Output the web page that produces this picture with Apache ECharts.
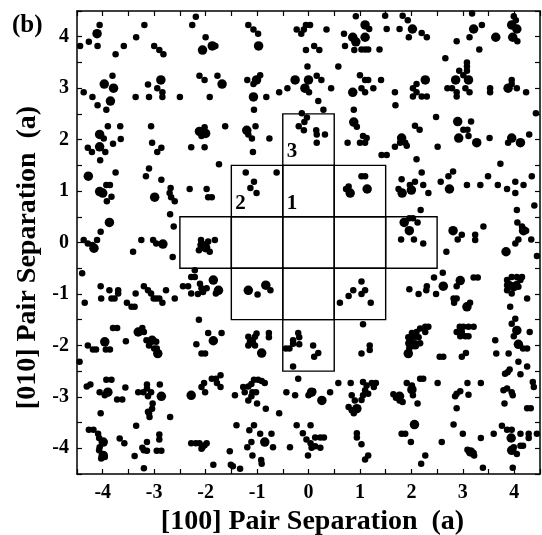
<!DOCTYPE html>
<html>
<head>
<meta charset="utf-8">
<script src="https://cdn.jsdelivr.net/npm/echarts@6/dist/echarts.min.js"></script>
<style>
  html, body { margin: 0; padding: 0; background: #fff; }
  #chart { width: 542px; height: 535px; }
</style>
</head>
<body>
<div id="chart"></div>
<script>
// axis range / ticks (lattice units a)
const axisMin = -4.5
const axisMax = 4.5
const tickStep = 0.5

// shell cells outlined around the origin, with the shell number written in some
const boxCells = [
  [0, 2], [-1, 1], [0, 1], [1, 1],
  [-2, 0], [-1, 0], [0, 0], [1, 0], [2, 0],
  [-1, -1], [0, -1], [1, -1], [0, -2]
]
const boxLabels = ['3', '2', '1', '', '', '', '', '', '', '', '', '', '']

// pair separations, large markers
const largeDots = [
  [-4.11, 4.06], [-3.97, 3.08], [-3.79, 3.0], [-3.85, 2.75], [-2.87, 3.16], [-4.06, 2.10], [-4.06, 1.86], [-4.28, 1.29],
  [-2.06, 3.74], [-1.87, 3.82], [-0.97, 3.82], [0.86, 3.99], [0.92, 3.90], [-1.68, 3.08], [-1.01, 3.16], [-1.07, 2.83],
  [-0.26, 3.16], [-0.07, 3.0], [0.0, 3.16], [0.86, 2.92], [-2.12, 2.16], [-2.0, 2.12], [-1.20, 2.18], [0.88, 2.34],
  [1.10, 4.23], [1.10, 3.99], [2.02, 4.15], [3.21, 4.15], [3.64, 3.99], [3.95, 4.23], [4.05, 4.15], [3.97, 3.99],
  [2.86, 3.16], [3.11, 3.16], [2.27, 3.16], [3.88, 3.0], [2.90, 2.35], [2.92, 2.03], [3.27, 1.94], [1.81, 2.03],
  [3.95, 2.03], [4.12, 1.94],
  [-4.06, 0.99], [-4.0, 0.96], [-3.87, 0.39], [-4.17, -0.11], [-2.99, 0.88], [-2.83, -0.03], [-3.31, -1.74],
  [-3.04, -1.90], [-2.93, -2.16], [-3.96, -1.93],
  [0.81, 0.96], [-2.07, -0.05], [-2.0, -0.10], [-1.85, -0.73], [-1.75, -0.93], [-1.17, -0.93], [-0.83, -0.83],
  [-1.85, -1.91], [-0.91, -2.15], [-1.11, -1.93],
  [1.14, 1.04], [1.82, 0.96], [2.0, 1.02], [2.74, 1.04], [1.86, 0.39], [1.96, 0.23], [2.81, 0.23], [4.18, 0.23],
  [3.84, -0.18], [2.62, -0.85], [2.95, -0.74], [3.08, -1.25], [3.89, -0.83], [3.99, -0.86], [1.97, -1.96],
  [2.07, -1.99], [1.94, -2.16], [4.05, -1.71], [4.08, -1.98],
  [-3.90, -2.91], [-2.86, -2.99], [-3.99, -3.88], [-3.99, -4.14],
  [-2.28, -2.97], [0.06, -2.91], [0.26, -3.07], [0.94, -3.23], [-0.85, -3.88],
  [1.77, -2.99], [2.01, -2.86], [2.06, -3.54], [3.94, -3.80], [3.95, -4.04], [3.15, -4.07]
]

// pair separations, small markers
const smallDots = [
  [-4.06, 4.23], [-4.27, 3.90], [-4.44, 3.82], [-4.10, 3.82], [-3.75, 3.66], [-3.59, 3.82], [-3.35, 3.99], [-3.19, 4.23],
  [-3.0, 3.82], [-2.90, 3.74], [-2.82, 3.66], [-3.81, 3.24], [-3.93, 2.58], [-4.10, 2.67], [-4.20, 2.83], [-4.37, 2.92],
  [-3.36, 2.83], [-3.10, 2.83], [-3.12, 3.07], [-2.94, 3.0], [-2.84, 2.92], [-2.84, 2.83], [-2.50, 2.83],
  [-3.90, 2.26], [-3.66, 2.26], [-3.98, 2.02], [-3.95, 1.76], [-4.05, 1.60], [-4.29, 1.84], [-4.21, 1.76], [-3.80, 1.92],
  [-3.65, 2.01], [-3.06, 2.26], [-3.04, 1.94], [-2.86, 1.84], [-2.94, 1.76], [-3.75, 1.36], [-3.10, 1.44], [-3.16, 1.29],
  [-2.86, 1.22],
  [-2.19, 4.39], [-2.26, 4.23], [-2.0, 3.99], [-1.81, 3.82], [-1.17, 4.23], [-1.07, 4.14], [-0.98, 4.06], [-0.23, 4.14],
  [-0.14, 4.06], [-0.09, 4.14], [-0.05, 4.23], [0.03, 4.23], [0.35, 4.14], [-0.05, 3.74], [0.11, 3.82], [0.21, 3.74],
  [0.69, 4.06], [0.71, 3.82], [0.89, 3.74], [0.92, 4.40],
  [-2.12, 3.24], [-2.02, 3.16], [-1.77, 3.24], [-1.19, 3.16], [-0.94, 3.25], [-1.07, 3.08], [-1.92, 2.83], [-0.82, 2.83],
  [-0.57, 2.92], [-0.41, 3.0], [-0.02, 3.42], [0.16, 3.24], [0.25, 3.16], [0.01, 2.92], [0.44, 3.0], [0.58, 3.42],
  [1.0, 3.25], [-1.06, 2.58], [0.19, 2.75], [0.29, 2.58], [0.88, 2.58],
  [-2.02, 2.24], [-2.08, 2.07], [-1.62, 2.26], [-1.17, 2.10], [-1.03, 2.26], [-1.10, 2.02], [-0.76, 2.02], [-2.28, 1.85],
  [-2.02, 1.85], [-1.08, 1.76], [-1.74, 1.52],
  [-0.13, 2.51], [-0.03, 2.43], [-0.08, 2.34], [-0.19, 2.26], [-0.09, 2.18], [0.15, 2.18], [0.16, 2.10], [0.32, 2.10],
  [0.16, 1.94], [0.94, 2.25], [0.76, 1.94], [1.0, 1.94], [-1.22, 1.36], [-0.62, 1.36],
  [1.49, 4.41], [1.83, 4.41], [1.93, 4.32], [1.18, 4.15], [1.03, 3.75], [1.10, 3.75], [1.16, 3.75], [1.38, 3.75],
  [1.52, 4.15], [1.77, 4.15], [1.95, 3.99], [2.20, 4.07], [2.30, 3.99], [3.18, 4.45], [3.37, 4.23], [3.13, 3.99],
  [2.88, 3.91], [3.32, 3.75], [3.99, 4.40], [4.03, 4.32], [4.06, 3.91],
  [2.66, 3.58], [3.08, 3.50], [3.08, 3.42], [3.08, 3.34], [2.93, 3.34], [3.01, 3.25], [2.70, 3.0], [2.79, 3.0],
  [2.88, 2.92], [2.88, 2.84], [3.05, 3.0], [3.13, 2.92],
  [1.10, 3.16], [1.16, 3.16], [1.03, 3.0], [1.10, 2.92], [1.26, 3.0], [1.41, 3.16], [1.68, 2.92], [1.69, 2.67],
  [2.10, 3.08], [2.03, 3.0], [2.10, 2.92], [2.03, 2.84], [2.20, 2.84], [2.30, 2.84], [3.53, 3.0], [3.53, 2.92],
  [3.95, 3.16], [3.95, 3.08], [4.05, 3.0], [4.23, 2.92], [4.42, 2.51],
  [2.48, 2.44], [3.16, 2.35], [3.01, 2.19], [3.09, 2.19], [3.11, 2.07], [2.07, 2.27], [2.16, 2.19], [1.88, 1.94],
  [1.91, 1.88], [1.68, 1.86], [1.78, 1.94], [1.06, 2.07], [1.13, 2.03], [1.10, 1.94], [2.51, 1.86], [3.52, 2.03],
  [3.88, 1.94], [4.29, 2.10], [1.42, 1.70], [1.52, 1.70], [2.10, 1.62], [2.20, 1.36], [3.73, 1.53], [1.81, 1.23],
  [2.72, 1.29], [2.81, 1.38], [3.49, 1.29], [4.34, 1.29], [1.03, 1.29], [1.10, 1.29],
  [-3.93, 1.12], [-3.86, 1.12], [-3.83, 0.89], [-3.92, 0.80], [-4.04, 0.21], [-4.11, 0.05], [-4.20, -0.05],
  [-4.29, -0.02], [-4.37, 0.05], [-2.70, 0.96], [-2.67, 0.88], [-2.60, 0.80], [-2.68, 1.06], [-2.69, 0.55],
  [-2.62, 0.31], [-2.64, -0.28], [-3.41, -0.18], [-3.25, 0.05], [-3.02, 0.05], [-2.96, -0.02],
  [-4.40, -0.60], [-4.35, -1.17], [-4.04, -0.85], [-4.03, -1.09], [-3.87, -0.93], [-3.83, -1.09], [-3.77, -1.09],
  [-3.70, -0.99], [-3.70, -0.93], [-3.53, -1.17], [-3.44, -1.25], [-3.38, -1.25], [-3.36, -0.99], [-3.20, -0.85],
  [-3.12, -0.93], [-3.06, -0.99], [-3.01, -1.09], [-2.96, -1.09], [-2.90, -1.09], [-2.84, -1.17], [-2.77, -0.93],
  [-2.60, -1.09],
  [-3.80, -1.66], [-3.72, -1.66], [-3.55, -1.92], [-3.23, -1.66], [-3.20, -1.74], [-3.15, -1.90], [-3.10, -2.0],
  [-2.96, -1.93], [-2.95, -2.06], [-3.0, -2.06], [-4.29, -2.0], [-4.19, -2.08], [-4.13, -2.08], [-3.94, -2.08],
  [-3.86, -2.08],
  [-2.31, 1.04], [-1.98, 1.04], [-1.95, 0.88], [-1.88, 0.88], [-1.13, 1.06], [-1.01, 0.96], [-1.06, 1.18],
  [0.73, 1.04], [0.78, 1.09],
  [-2.13, -0.15], [-1.92, -0.18], [-1.82, 0.05], [-2.09, 0.05], [-1.95, 0.02],
  [-2.21, -0.54], [-2.28, -0.67], [-2.21, -0.67], [-2.44, -0.85], [-2.34, -0.85], [-2.28, -0.99], [-2.11, -0.80],
  [-2.08, -0.89], [-2.05, -0.96], [-1.98, -0.89], [-1.80, -0.99], [-2.15, -1.0],
  [-0.99, -1.01], [-0.74, -0.93], [0.61, -1.17], [0.78, -1.04], [0.87, -0.93],
  [-2.13, -1.50], [-1.95, -1.76], [-1.69, -1.76], [-2.18, -1.98], [-2.08, -2.16], [-2.01, -2.16],
  [-1.17, -1.83], [-1.04, -1.83], [-1.17, -2.0], [-1.04, -2.0], [-1.01, -1.77], [-0.77, -1.76], [-0.77, -1.84],
  [-0.44, -2.06], [-0.37, -2.06], [-0.30, -1.97], [-0.20, -1.76], [-0.18, -1.84], [-0.18, -1.98], [-0.30, -1.90],
  [0.09, -2.0], [0.19, -2.15], [0.11, -2.22],
  [1.75, 1.04], [1.97, 1.12], [2.07, 1.18], [2.23, 1.12], [2.33, 0.96], [2.57, 1.18], [3.08, 1.12], [3.34, 1.12],
  [3.68, 1.12], [3.86, 1.04], [4.02, 0.96], [4.18, 1.12], [4.02, 1.18],
  [4.39, 0.72], [4.05, 0.63], [2.18, 0.63], [1.96, 0.47], [2.03, 0.47], [2.12, 0.39], [1.80, 0.06], [2.05, 0.06],
  [2.23, -0.02], [2.98, 0.15], [2.90, 0.06], [3.24, 0.15], [3.24, 0.05], [3.40, 0.31], [2.68, -0.18], [4.06, 0.39],
  [4.15, 0.31], [4.23, 0.23], [4.02, -0.02], [4.08, 0.06], [4.33, 0.06], [4.44, -0.26],
  [2.61, -0.59], [2.44, -0.68], [2.30, -0.85], [2.29, -0.93], [2.14, -1.0], [1.96, -0.91], [2.48, -1.0], [2.88, -0.85],
  [3.21, -0.68], [3.29, -0.68], [2.82, -1.09], [2.88, -1.09], [2.83, -1.17], [3.14, -1.17], [3.92, -1.25],
  [3.86, -0.73], [3.95, -0.67], [4.05, -0.67], [4.15, -0.67], [4.05, -0.80], [4.12, -0.73], [3.86, -0.93],
  [3.95, -0.99], [4.08, -0.86], [4.25, -1.09],
  [1.03, -0.76], [1.10, -0.93], [1.03, -1.0], [1.21, -1.17], [1.06, -1.59],
  [2.01, -1.76], [1.94, -1.84], [2.10, -1.74], [2.17, -1.67], [2.27, -1.64], [2.33, -1.64], [2.04, -1.84],
  [2.14, -1.84], [2.17, -1.96], [1.96, -2.06], [2.27, -1.74],
  [2.94, -1.64], [3.01, -1.64], [3.11, -1.64], [3.21, -1.64], [2.88, -1.74], [2.98, -1.74], [3.05, -1.82],
  [2.95, -1.82], [3.11, -1.82],
  [4.02, -1.48], [3.95, -1.58], [3.99, -1.82], [4.17, -2.06], [4.25, -2.06], [4.30, -1.74], [3.63, -1.90],
  [3.65, -2.16], [3.89, -2.16], [1.19, -2.0], [1.19, -2.09], [1.03, -2.16], [2.55, -2.22], [2.62, -2.22],
  [3.06, -2.15], [2.98, -2.22],
  [-4.45, -2.32], [-4.31, -2.80], [-4.24, -2.76], [-4.06, -2.91], [-3.96, -2.97], [-3.93, -2.67], [-3.83, -2.67],
  [-3.72, -3.05], [-3.62, -3.05], [-3.56, -2.82], [-4.04, -3.32],
  [-3.31, -2.91], [-3.21, -2.91], [-3.14, -2.76], [-3.14, -2.84], [-3.12, -2.99], [-3.06, -2.91], [-2.89, -2.76],
  [-3.03, -3.13], [-3.04, -3.23], [-3.10, -3.32], [-3.09, -3.39], [-3.12, -3.29], [-2.69, -3.39], [-3.35, -3.56],
  [-4.27, -3.64], [-4.18, -3.64], [-4.09, -3.72], [-4.07, -3.80], [-4.06, -3.98], [-4.07, -4.04], [-4.03, -4.20],
  [-3.96, -4.17], [-3.67, -3.81], [-3.58, -3.90], [-3.38, -4.15], [-3.20, -4.39],
  [-3.14, -3.88], [-3.23, -3.99], [-3.20, -4.04], [-3.14, -4.05], [-2.90, -3.73], [-2.90, -3.83], [-2.95, -4.05],
  [-2.86, -4.05],
  [-2.08, -2.81], [-2.03, -2.73], [-2.01, -2.91], [-1.88, -2.65], [-1.80, -2.65], [-1.71, -2.58], [-1.78, -2.73],
  [-1.71, -2.81], [-1.43, -2.97],
  [-1.27, -2.81], [-1.24, -2.91], [-1.17, -2.80], [-1.11, -2.75], [-1.06, -2.67], [-0.98, -2.67], [-0.91, -2.69],
  [-0.85, -2.73], [-1.09, -2.91], [-1.02, -2.91], [-1.17, -3.07], [-1.11, -2.99], [-1.0, -3.13], [-0.83, -3.23],
  [-0.57, -3.32],
  [-0.30, -2.41], [-0.20, -2.65], [-0.43, -2.91], [-0.26, -2.97], [0.0, -2.97], [0.09, -2.89], [0.42, -2.91],
  [0.58, -2.73], [0.82, -2.73], [0.84, -2.97], [0.90, -3.07], [0.78, -3.20], [0.84, -3.26], [0.88, -3.32],
  [-2.28, -3.90], [-2.19, -3.90], [-2.12, -3.90], [-2.08, -4.01], [-2.02, -3.94], [-1.98, -3.90], [-2.06, -3.98],
  [-1.85, -4.32], [-1.53, -4.06], [-1.51, -4.32], [-1.47, -4.35], [-1.33, -4.40], [-1.40, -3.55],
  [-1.15, -3.65], [-1.06, -3.55], [-0.94, -3.72], [-1.11, -3.88], [-1.19, -3.98], [-1.09, -4.14], [-0.92, -4.23],
  [-0.91, -4.30], [-0.72, -3.72], [-0.69, -3.98], [-0.36, -3.98],
  [-0.23, -3.55], [-0.11, -3.71], [0.04, -3.55], [-0.04, -3.83], [0.04, -3.90], [0.13, -3.79], [0.23, -3.79],
  [0.30, -3.79], [0.06, -3.99], [0.13, -3.96], [0.23, -3.99], [-0.01, -4.14], [0.94, -3.71], [0.94, -3.79],
  [1.06, -2.71], [1.13, -2.78], [1.23, -2.73], [1.31, -2.73], [1.10, -2.87], [1.06, -2.97], [1.03, -3.06],
  [1.16, -2.94], [1.27, -2.81], [1.03, -3.92], [1.10, -4.22], [1.16, -4.14],
  [1.65, -2.95], [1.70, -3.02], [1.77, -3.07], [1.83, -3.10], [1.91, -2.73], [2.01, -2.78], [2.03, -2.97],
  [2.12, -3.13], [2.17, -2.65], [2.23, -2.65], [2.51, -2.73],
  [1.81, -3.72], [1.88, -3.72], [1.99, -3.88], [2.59, -3.88], [2.19, -4.30], [2.27, -4.14],
  [2.88, -2.94], [2.95, -2.89], [2.85, -2.99], [2.88, -3.22], [3.09, -2.73], [3.11, -2.96], [3.35, -2.73],
  [2.82, -3.54], [3.0, -3.72], [3.35, -3.80], [3.09, -4.03], [3.21, -4.09], [3.22, -4.14], [3.39, -4.38],
  [3.60, -3.72], [3.76, -3.56], [3.86, -3.64], [3.95, -3.64], [4.12, -3.72], [4.28, -3.72], [4.44, -3.72],
  [4.28, -3.80], [3.99, -3.98], [4.05, -4.11], [4.12, -3.95], [4.17, -3.95], [3.97, -4.38],
  [3.82, -2.55], [3.87, -2.52], [3.91, -2.47], [4.08, -2.32], [4.25, -2.41], [4.12, -2.56], [3.79, -2.87],
  [3.86, -2.84], [3.95, -2.91], [3.97, -2.97], [3.81, -3.13], [4.36, -2.71], [4.38, -2.81], [4.25, -3.22],
  [4.32, -3.22]
]

const serif = '"Liberation Serif", "Times New Roman", serif'
const tickFmt = v => (Math.abs(v - Math.round(v)) < 1e-6 ? String(Math.round(v)) : '')

const baseAxis = {
  type: 'value',
  min: axisMin,
  max: axisMax,
  interval: tickStep,
  splitLine: { show: false },
  axisLine: { onZero: false, lineStyle: { color: '#000', width: 1.5 } },
  axisTick: { inside: true, length: 5, lineStyle: { color: '#000', width: 1.2 } }
}
const labelStyle = {
  color: '#000',
  fontFamily: serif,
  fontWeight: 'bold',
  fontSize: 20,
  formatter: tickFmt
}
const nameStyle = {
  color: '#000',
  fontFamily: serif,
  fontWeight: 'bold',
  fontSize: 28
}

const chart = echarts.init(document.getElementById('chart'))

const opt = {
  animation: false,
  backgroundColor: '#fff',
  grid: { left: 77, right: 2, top: 11, bottom: 61, outerBoundsMode: 'none', containLabel: false },
  xAxis: [
    {
      ...baseAxis,
      position: 'bottom',
      axisLabel: { ...labelStyle, margin: 9 },
      name: '[100] Pair Separation  (a)',
      nameLocation: 'middle',
      nameGap: 34,
      nameTextStyle: { ...nameStyle, padding: [0, 0, 0, 8] }
    },
    { ...baseAxis, position: 'top', axisLabel: { show: false } }
  ],
  yAxis: [
    {
      ...baseAxis,
      position: 'left',
      axisLabel: { ...labelStyle, margin: 8 },
      name: '[010] Pair Separation  (a)',
      nameLocation: 'middle',
      nameGap: 35,
      nameTextStyle: { ...nameStyle, padding: [0, 30, 0, 0] }
    },
    { ...baseAxis, position: 'right', axisLabel: { show: false } }
  ],
  graphic: [
    {
      type: 'text',
      left: 12,
      top: 13,
      style: { text: '(b)', fill: '#000', font: 'bold 25px ' + serif }
    }
  ],
  series: [
    {
      type: 'custom',
      silent: true,
      data: boxCells,
      z: 1,
      renderItem: (params, api) => {
        const i = api.value(0)
        const j = api.value(1)
        const tl = api.coord([i - 0.5, j + 0.5])
        const sz = api.size([1, 1])
        const children = [
          {
            type: 'rect',
            shape: { x: tl[0], y: tl[1], width: sz[0], height: sz[1] },
            style: { fill: 'none', stroke: '#000', lineWidth: 1.4 }
          }
        ]
        const txt = boxLabels[params.dataIndex]
        if (txt) {
          children.push({
            type: 'text',
            style: {
              text: txt,
              x: tl[0] + 4,
              y: tl[1] + sz[1] - 3,
              textVerticalAlign: 'bottom',
              fill: '#000',
              font: 'bold 21px ' + serif
            }
          })
        }
        return { type: 'group', children }
      }
    },
    {
      type: 'scatter',
      data: smallDots,
      symbolSize: 6.5,
      itemStyle: { color: '#000', opacity: 1 },
      silent: true,
      z: 3
    },
    {
      type: 'scatter',
      data: largeDots,
      symbolSize: 9.5,
      itemStyle: { color: '#000', opacity: 1 },
      silent: true,
      z: 3
    }
  ]
}

chart.setOption(opt)
</script>
</body>
</html>
